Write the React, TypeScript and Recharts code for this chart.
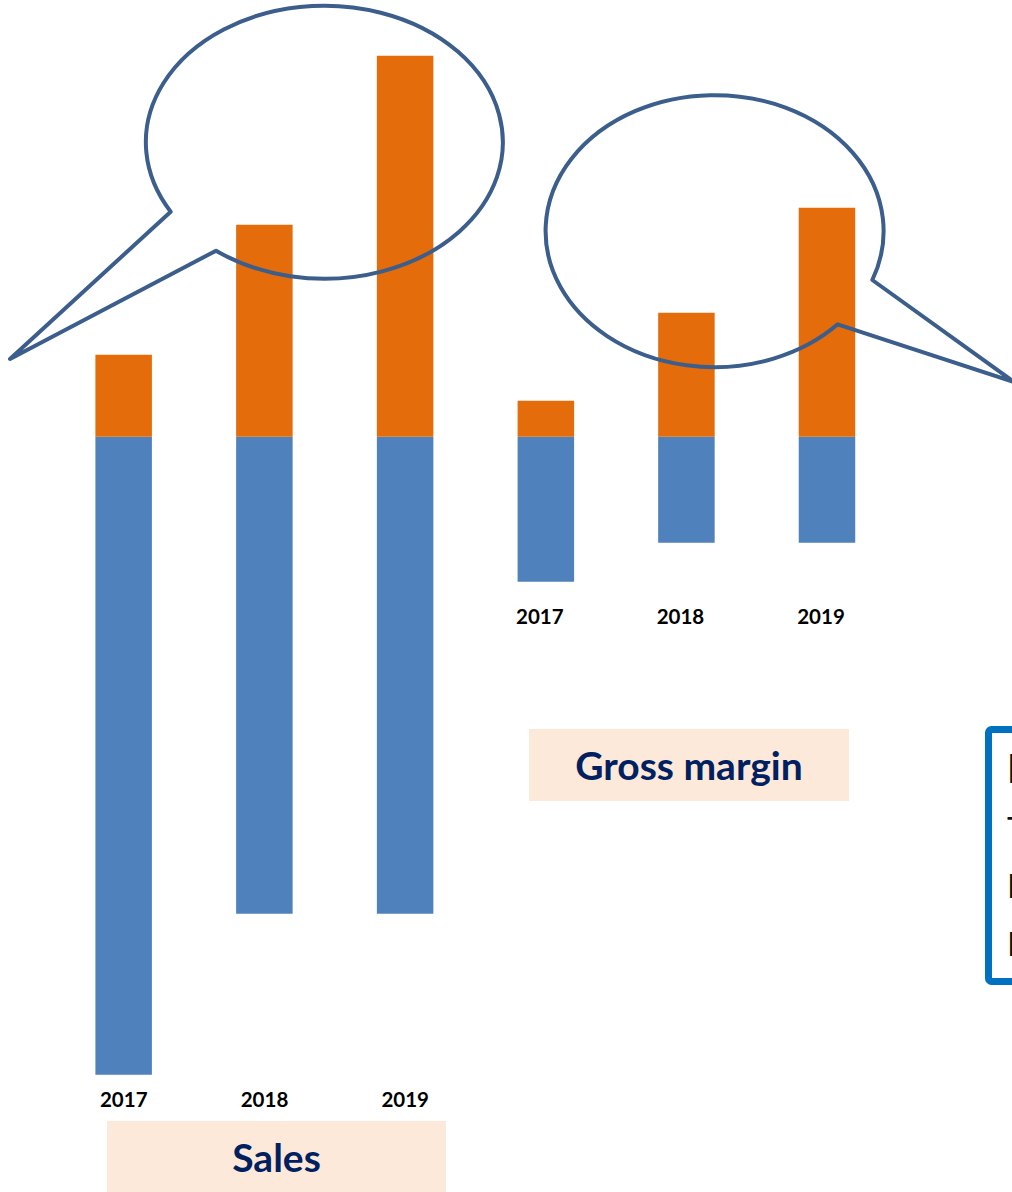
import { BarChart, Bar, XAxis, YAxis } from 'recharts';

const YEARS = ['2017', '2018', '2019'];
// blue part hangs below the zero line, orange part sits on top of it
const SALES_DOWN = [-638, -477, -477];
const SALES_UP = [82, 212, 381];
const MARGIN_DOWN = [-145, -106, -106];
const MARGIN_UP = [36, 124, 229];

const NOTE_LINES = ['Highlights', 'Total sales up', 'Better margin', 'Both keep growing'];

const BLUE = '#4F81BD';
const ORANGE = '#E46C0A';
const NAVY = '#002060';
const PEACH = '#FDE9D9';
const BUBBLE = '#3B5E8C';

const salesData = YEARS.map((year, i) => ({ year, down: SALES_DOWN[i], up: SALES_UP[i] }));
const marginData = YEARS.map((year, i) => ({ year, down: MARGIN_DOWN[i], up: MARGIN_UP[i] }));

const yearTick = (dx: number) => (props: any) => (
  <text
    x={props.x + dx}
    y={props.y}
    dy="0.71em"
    textAnchor="middle"
    fill="#000"
    fontSize={20.5}
    fontWeight={700}
    fontFamily="Lato, 'Open Sans', sans-serif"
  >
    {props.payload.value}
  </text>
);

type StackProps = {
  data: { year: string; down: number; up: number }[];
  width: number;
  height: number;
  margin: { top: number; right: number; bottom: number; left: number };
  domain: [number, number];
  tickMargin: number;
  tickDx: number;
};

const StackedYears = ({ data, width, height, margin, domain, tickMargin, tickDx }: StackProps) => (
  <BarChart width={width} height={height} data={data} margin={margin} stackOffset="sign">
    <XAxis
      dataKey="year"
      axisLine={false}
      tickLine={false}
      tickSize={0}
      tickMargin={tickMargin}
      height={30}
      interval={0}
      tick={yearTick(tickDx)}
    />
    <YAxis hide type="number" domain={domain} />
    <Bar dataKey="down" stackId="s" fill={BLUE} barSize={56.5} isAnimationActive={false} />
    <Bar dataKey="up" stackId="s" fill={ORANGE} barSize={56.5} isAnimationActive={false} />
  </BarChart>
);

const titleBox = (left: number, top: number, width: number, height: number): React.CSSProperties => ({
  position: 'absolute',
  left,
  top,
  width,
  height,
  background: PEACH,
  color: NAVY,
  fontFamily: "Lato, 'Open Sans', sans-serif",
  fontWeight: 700,
  fontSize: 39,
  display: 'flex',
  alignItems: 'center',
  justifyContent: 'center',
});

export default function App() {
  return (
    <div
      style={{
        position: 'absolute',
        left: 0,
        top: 0,
        width: 1012,
        height: 1192,
        overflow: 'hidden',
        background: '#fff',
      }}
    >
      <div style={{ position: 'absolute', left: 0, top: 0 }}>
        <StackedYears
          data={salesData}
          width={520}
          height={1192}
          margin={{ top: 36.7, right: 44.4, bottom: 75.3, left: 53.4 }}
          domain={[-650, 400]}
          tickMargin={5.8}
          tickDx={0}
        />
      </div>
      <div style={{ position: 'absolute', left: 440, top: 0 }}>
        <StackedYears
          data={marginData}
          width={500}
          height={680}
          margin={{ top: 36.7, right: 42.7, bottom: 43.3, left: 35.6 }}
          domain={[-170, 400]}
          tickMargin={2.4}
          tickDx={-6}
        />
      </div>

      <div style={titleBox(107, 1121, 339, 71)}>Sales</div>
      <div style={titleBox(529, 729, 320, 72)}>Gross margin</div>

      <svg
        width={1012}
        height={1192}
        style={{ position: 'absolute', left: 0, top: 0, pointerEvents: 'none' }}
      >
        <path
          d="M 170.7 211.7 L 10 359 L 216 250.7 A 178.5 136.5 0 1 0 170.7 211.7 Z"
          fill="none"
          stroke={BUBBLE}
          strokeWidth={4}
          strokeLinejoin="round"
        />
        <path
          d="M 872.3 280 L 1014 382 L 837.7 324.3 A 169 136 0 1 1 872.3 280 Z"
          fill="none"
          stroke={BUBBLE}
          strokeWidth={4}
          strokeLinejoin="round"
        />
        <rect x={988.5} y={729.5} width={300} height={252} rx={3} fill="#fff" stroke="#0070C0" strokeWidth={7} />
        <g fontFamily="Lato, 'Open Sans', sans-serif" fill="#111">
          <text x={1007} y={783} fontSize={40} fontWeight={700}>{NOTE_LINES[0]}</text>
          <text x={1007} y={841} fontSize={33}>{NOTE_LINES[1]}</text>
          <text x={1007} y={898} fontSize={33}>{NOTE_LINES[2]}</text>
          <text x={1007} y={956} fontSize={33}>{NOTE_LINES[3]}</text>
        </g>
      </svg>
    </div>
  );
}
